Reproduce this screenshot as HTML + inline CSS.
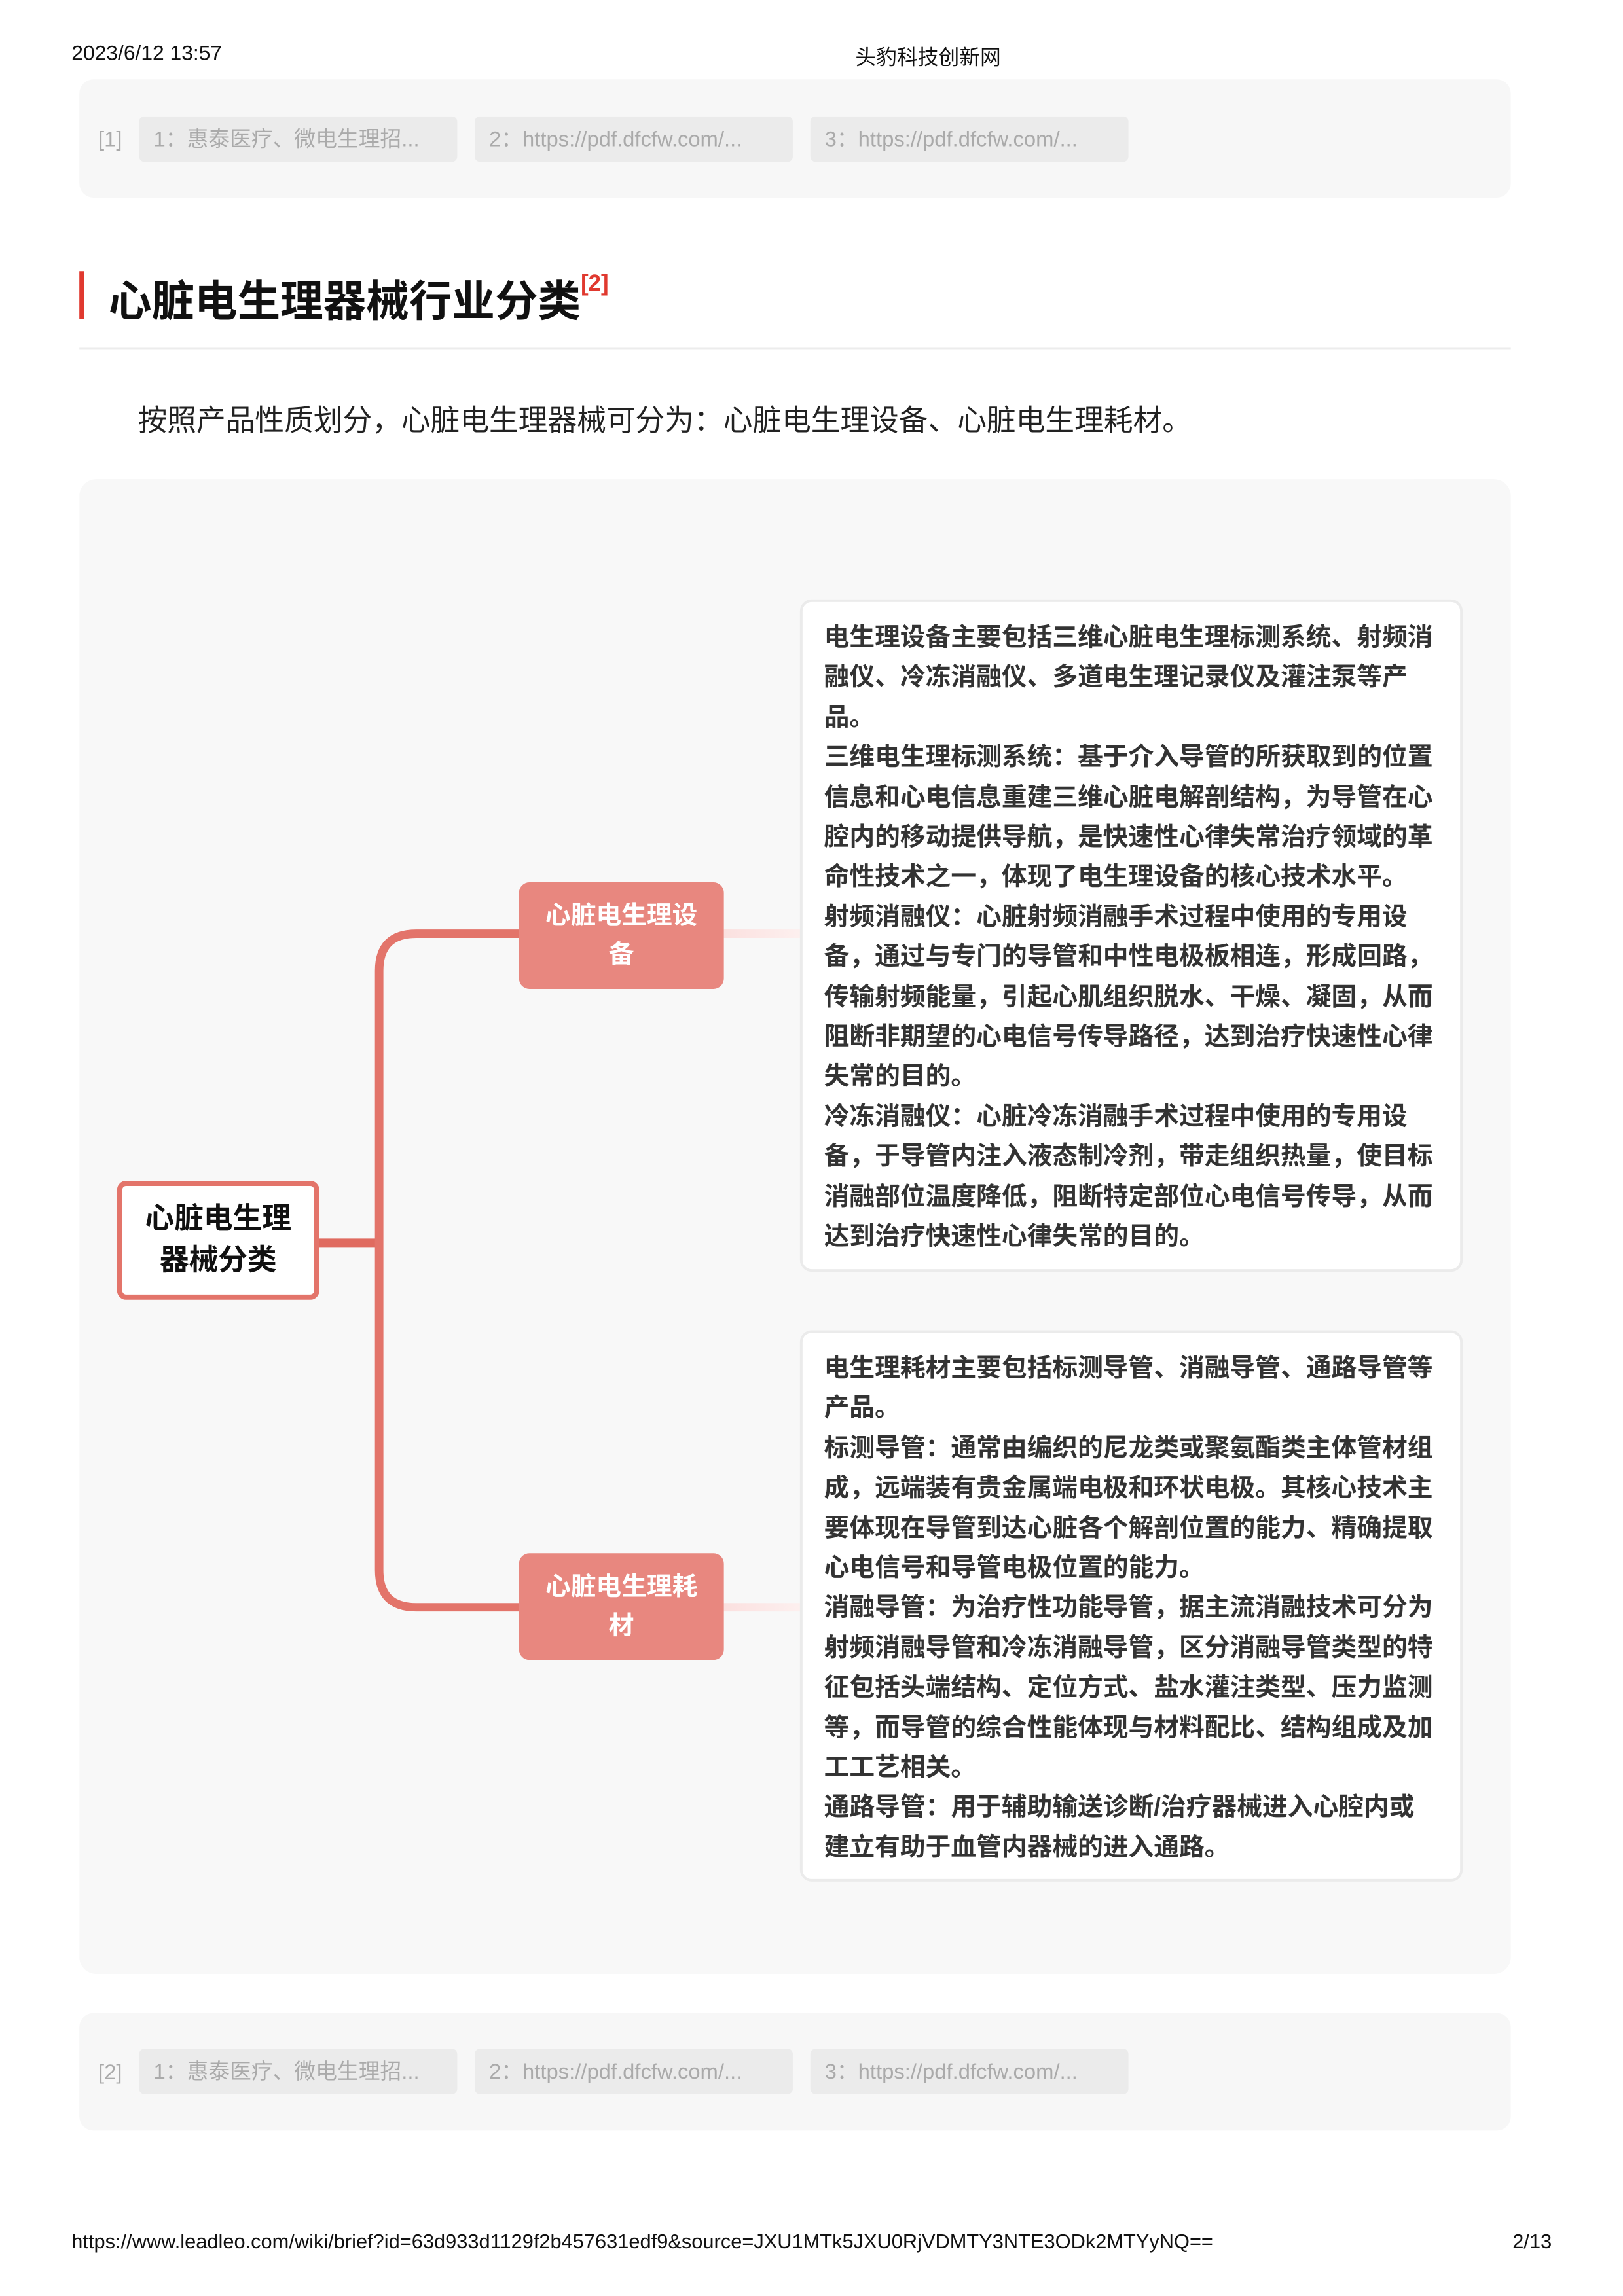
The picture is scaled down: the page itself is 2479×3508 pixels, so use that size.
<!DOCTYPE html>
<html><head><meta charset="utf-8"><style>
*{margin:0;padding:0;box-sizing:border-box}
body{width:2479px;height:3508px;background:#fff;position:relative;font-family:"Liberation Sans","Noto Sans CJK SC",sans-serif;overflow:hidden}
#w{position:absolute;left:0;top:0;width:2479px;height:3508px;transform:scale(0.9934);transform-origin:0 0}
.a{position:absolute;white-space:nowrap}
.refbox{position:absolute;left:122px;width:2201px;background:#f7f7f7;border-radius:22px}
.chip{position:absolute;height:70px;width:489px;background:#ebebeb;border-radius:8px;color:#aaa;font-size:33px;line-height:70px;padding-left:22px}
.lab{position:absolute;color:#aaa;font-size:33px}
.tb{position:absolute;left:1230px;width:1019px;background:#fff;border:4px solid #ebebeb;border-radius:18px}
.tx{position:absolute;left:1267px;font-size:39px;font-weight:bold;color:#333;line-height:61.4px;white-space:nowrap}
.node{position:absolute;left:798px;width:315px;height:164px;background:#e8877f;border-radius:16px;color:#fff;font-weight:bold;font-size:39px;line-height:60px;text-align:center;padding-top:22px}
</style></head><body><div id="w">
<div class="a" style="left:110px;top:63px;font-size:32px;color:#111">2023/6/12 13:57</div>
<div class="a" style="left:1315px;top:63px;font-size:32px;color:#111">头豹科技创新网</div>

<div class="refbox" style="top:122px;height:182px"></div>
<div class="lab" style="left:151px;top:195px">[1]</div>
<div class="chip" style="left:214px;top:179px">1：惠泰医疗、微电生理招...</div>
<div class="chip" style="left:730px;top:179px">2：https://pdf.dfcfw.com/...</div>
<div class="chip" style="left:1246px;top:179px">3：https://pdf.dfcfw.com/...</div>

<div class="a" style="left:122px;top:417px;width:7px;height:74px;background:#e0392f"></div>
<div class="a" style="left:167px;top:410px;font-size:66px;font-weight:bold;color:#111">心脏电生理器械行业分类<span style="color:#e0392f;font-size:35px;font-weight:bold;vertical-align:top;position:relative;top:6px">[2]</span></div>
<div class="a" style="left:122px;top:534px;width:2201px;height:3px;background:#ececec"></div>
<div class="a" style="left:212px;top:610px;font-size:45px;color:#222">按照产品性质划分，心脏电生理器械可分为：心脏电生理设备、心脏电生理耗材。</div>

<div class="refbox" style="top:737px;height:2299px;border-radius:26px;background:#f8f8f8"></div>
<svg class="a" style="left:0;top:0" width="2479" height="3508">
<defs><linearGradient id="g" x1="0" x2="1"><stop offset="0" stop-color="#fbe0df"/><stop offset="1" stop-color="#fdf0ef"/></linearGradient></defs>
<path d="M491 1912 H583" stroke="#e06b60" stroke-width="14" fill="none"/>
<path d="M800 1436 H640 Q583 1436 583 1493 V2415 Q583 2472 640 2472 H800" stroke="#e3746a" stroke-width="13" fill="none"/>
<path d="M1113 1436 H1232 M1113 2472 H1232" stroke="url(#g)" stroke-width="13"/>
</svg>
<div class="a" style="left:180px;top:1816px;width:311px;height:183px;background:#fff;border:8px solid #e3746a;border-radius:14px;font-size:45px;font-weight:bold;color:#111;text-align:center;line-height:64px;padding-top:18px;white-space:normal">心脏电生理<br>器械分类</div>
<div class="node" style="top:1357px">心脏电生理设<br>备</div>
<div class="node" style="top:2389px">心脏电生理耗<br>材</div>

<div class="tb" style="top:922px;height:1034px"></div>
<div class="tx" style="top:950px">电生理设备主要包括三维心脏电生理标测系统、射频消<br>融仪、冷冻消融仪、多道电生理记录仪及灌注泵等产<br>品。<br>三维电生理标测系统：基于介入导管的所获取到的位置<br>信息和心电信息重建三维心脏电解剖结构，为导管在心<br>腔内的移动提供导航，是快速性心律失常治疗领域的革<br>命性技术之一，体现了电生理设备的核心技术水平。<br>射频消融仪：心脏射频消融手术过程中使用的专用设<br>备，通过与专门的导管和中性电极板相连，形成回路，<br>传输射频能量，引起心肌组织脱水、干燥、凝固，从而<br>阻断非期望的心电信号传导路径，达到治疗快速性心律<br>失常的目的。<br>冷冻消融仪：心脏冷冻消融手术过程中使用的专用设<br>备，于导管内注入液态制冷剂，带走组织热量，使目标<br>消融部位温度降低，阻断特定部位心电信号传导，从而<br>达到治疗快速性心律失常的目的。</div>

<div class="tb" style="top:2046px;height:848px"></div>
<div class="tx" style="top:2074px">电生理耗材主要包括标测导管、消融导管、通路导管等<br>产品。<br>标测导管：通常由编织的尼龙类或聚氨酯类主体管材组<br>成，远端装有贵金属端电极和环状电极。其核心技术主<br>要体现在导管到达心脏各个解剖位置的能力、精确提取<br>心电信号和导管电极位置的能力。<br>消融导管：为治疗性功能导管，据主流消融技术可分为<br>射频消融导管和冷冻消融导管，区分消融导管类型的特<br>征包括头端结构、定位方式、盐水灌注类型、压力监测<br>等，而导管的综合性能体现与材料配比、结构组成及加<br>工工艺相关。<br>通路导管：用于辅助输送诊断/治疗器械进入心腔内或<br>建立有助于血管内器械的进入通路。</div>

<div class="refbox" style="top:3096px;height:181px"></div>
<div class="lab" style="left:151px;top:3168px">[2]</div>
<div class="chip" style="left:214px;top:3151px">1：惠泰医疗、微电生理招...</div>
<div class="chip" style="left:730px;top:3151px">2：https://pdf.dfcfw.com/...</div>
<div class="chip" style="left:1246px;top:3151px">3：https://pdf.dfcfw.com/...</div>

<div class="a" style="left:110px;top:3430px;font-size:31px;color:#111">https://www.leadleo.com/wiki/brief?id=63d933d1129f2b457631edf9&amp;source=JXU1MTk5JXU0RjVDMTY3NTE3ODk2MTYyNQ==</div>
<div class="a" style="right:93px;top:3430px;font-size:31px;color:#111">2/13</div>
</div></body></html>
